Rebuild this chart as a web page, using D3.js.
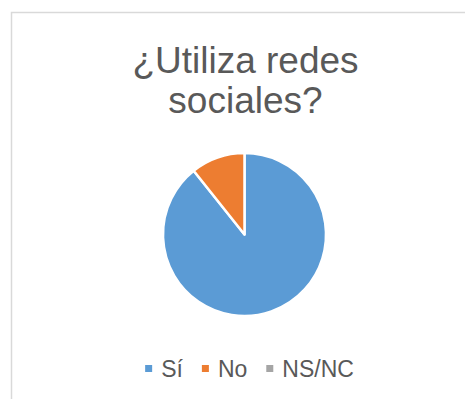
<!DOCTYPE html>
<html>
<head>
<meta charset="utf-8">
<script src="https://cdn.jsdelivr.net/npm/d3@7"></script>
<style>
  body { margin: 0; background: #fff; }
  text { font-family: "Liberation Sans", Arial, sans-serif; fill: #595959; }
</style>
</head>
<body>
<div id="chart"></div>
<script>
var categories = ['Sí', 'No', 'NS/NC'];
var values = [25, 3, 0];
var colors = ['#5B9BD5', '#ED7D31', '#A5A5A5'];
var titleLines = ['¿Utiliza redes', 'sociales?'];

var width = 465, height = 399,
  cx = 244.5, cy = 234.5, radius = 81.5;

var svg = d3.select('#chart').append('svg')
  .attr('width', width)
  .attr('height', height);

// chart area border (only top and left visible in the crop)
svg.append('rect')
  .attr('x', 11.5).attr('y', 12.5)
  .attr('width', 600).attr('height', 500)
  .attr('fill', 'none')
  .attr('stroke', '#D9D9D9')
  .attr('stroke-width', 1.5);

svg.append('text')
  .attr('text-anchor', 'middle')
  .attr('font-size', 37)
  .selectAll('tspan')
  .data(titleLines)
  .enter().append('tspan')
    .attr('x', 245.5)
    .attr('y', function(d, i) { return 73 + i * 40; })
    .text(function(d) { return d; });

var color = d3.scaleOrdinal().domain(categories).range(colors);

var data = categories.map(function(c, i) { return { name: c, value: values[i] }; });
var pie = d3.pie().sort(null).value(function(d) { return d.value; });
var arc = d3.arc().innerRadius(0).outerRadius(radius);

svg.append('g')
  .attr('transform', 'translate(' + cx + ',' + cy + ')')
  .selectAll('path')
  .data(pie(data).filter(function(d) { return d.value > 0; }))
  .enter().append('path')
    .attr('d', arc)
    .attr('fill', function(d) { return color(d.data.name); })
    .attr('stroke', '#fff')
    .attr('stroke-width', 2.5)
    .attr('stroke-linejoin', 'round');

// legend
var legend = svg.append('g');
var items = legend.selectAll('g')
  .data(categories)
  .enter().append('g');
items.append('rect')
  .attr('width', 7).attr('height', 7)
  .attr('y', -4)
  .attr('fill', function(d) { return color(d); });
items.append('text')
  .attr('x', 16)
  .attr('y', 8)
  .attr('font-size', 23)
  .text(function(d) { return d; });

var xpos = 0;
items.each(function() {
  d3.select(this).attr('transform', 'translate(' + xpos + ',0)');
  xpos += 16 + this.querySelector('text').getComputedTextLength() + 19;
});
var total = xpos - 19;
legend.attr('transform', 'translate(' + (249.5 - total / 2) + ',369)');
</script>
</body>
</html>
